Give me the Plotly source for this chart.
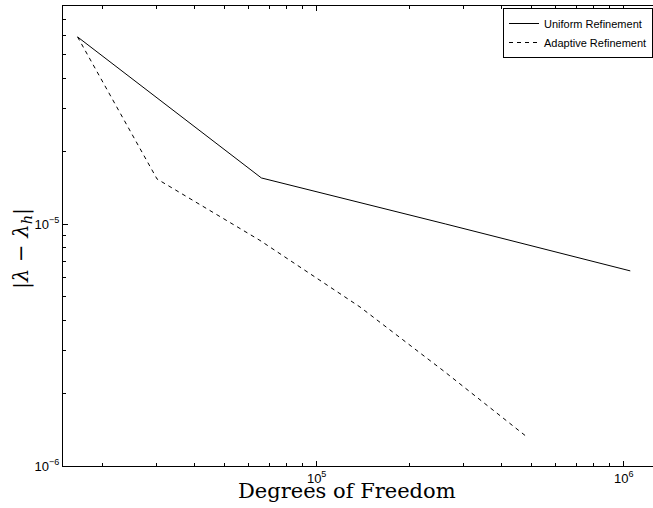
import numpy as np
import plotly.graph_objects as go

# Data
uniform_dof = [16641, 66049, 263169, 1050625]
uniform_err = [5.93e-5, 1.55e-5, 1.0e-5, 6.4e-6]

adaptive_dof = [16641, 30200, 65400, 138400, 261800, 484200]
adaptive_err = [5.93e-5, 1.535e-5, 8.55e-6, 4.54e-6, 2.445e-6, 1.318e-6]

series_names = ["Uniform Refinement", "Adaptive Refinement"]

x_major = [1e5, 1e6]
x_major_text = ["10<sup>5</sup>", "10<sup>6</sup>"]
y_major = [1e-6, 1e-5]
y_major_text = ["10<sup>\u22126</sup>", "10<sup>\u22125</sup>"]

x_minor = [m * 10**e for e in (4, 5) for m in range(2, 10)]
y_minor = [m * 10**e for e in (-6, -5) for m in range(2, 10)]

X_RANGE = [4.1738, 6.0954]
Y_RANGE = [-6, -4.0992]

W, H = 653, 508
L, R, T, B = 63, 0, 6, 42
plot_w = W - L - R
plot_h = H - T - B

fig = go.Figure()
fig.add_trace(go.Scatter(x=uniform_dof, y=uniform_err, mode="lines",
                         name=series_names[0],
                         line=dict(color="black", width=1)))
fig.add_trace(go.Scatter(x=adaptive_dof, y=adaptive_err, mode="lines",
                         name=series_names[1],
                         line=dict(color="black", width=1, dash="4px,4px")))

tickfont = dict(family="Liberation Sans, Arial, sans-serif", size=13, color="black")

fig.update_layout(
    xaxis=dict(type="log", range=X_RANGE,
               showgrid=False, zeroline=False,
               showline=True, linecolor="black", linewidth=1, mirror="ticks",
               ticks="inside", ticklen=5, tickcolor="black", tickwidth=1,
               tickmode="array", tickvals=x_major, ticktext=x_major_text,
               tickfont=tickfont),
    yaxis=dict(type="log", range=Y_RANGE,
               showgrid=False, zeroline=False,
               showline=True, linecolor="black", linewidth=1, mirror=False,
               ticks="inside", ticklen=5, tickcolor="black", tickwidth=1,
               tickmode="array", tickvals=y_major, ticktext=y_major_text,
               tickfont=tickfont),
    # overlay axes carrying the short minor ticks
    xaxis2=dict(type="log", range=X_RANGE, overlaying="x", anchor="y",
                side="bottom",
                showgrid=False, zeroline=False, showline=False, mirror="ticks",
                ticks="inside", ticklen=3, tickcolor="black", tickwidth=1,
                tickmode="array", tickvals=x_minor, showticklabels=False),
    yaxis2=dict(type="log", range=Y_RANGE, overlaying="y", anchor="x",
                side="left",
                showgrid=False, zeroline=False, showline=False, mirror=False,
                ticks="inside", ticklen=3, tickcolor="black", tickwidth=1,
                tickmode="array", tickvals=y_minor, showticklabels=False),
)

# invisible helper trace so the overlay axes get drawn
fig.add_trace(go.Scatter(x=[uniform_dof[0]], y=[uniform_err[0]], xaxis="x2", yaxis="y2",
                         mode="markers", marker=dict(opacity=0),
                         showlegend=False, hoverinfo="skip"))

serif = "DejaVu Serif, Liberation Serif, serif"
fig.add_annotation(text="Degrees of Freedom", xref="paper", yref="paper",
                   x=(347 - L) / plot_w, y=(T + plot_h - 491) / plot_h,
                   xanchor="center", yanchor="middle", showarrow=False,
                   font=dict(family=serif, size=21, color="black"))
fig.add_annotation(text="|<i>\u03bb</i> \u2212 <i>\u03bb</i><sub><i>h</i></sub>|",
                   xref="paper", yref="paper",
                   x=(22 - L) / plot_w, y=(T + plot_h - 249) / plot_h,
                   xanchor="center", yanchor="middle", textangle=-90,
                   showarrow=False,
                   font=dict(family=serif, size=21, color="black"))

fig.update_layout(
    width=W, height=H,
    margin=dict(l=L, r=R, t=T, b=B, pad=0),
    paper_bgcolor="white", plot_bgcolor="white",
    showlegend=True,
    legend=dict(x=1, y=(T + plot_h - 8) / plot_h, xanchor="right", yanchor="top",
                bgcolor="white", bordercolor="black", borderwidth=1,
                font=dict(family="Liberation Sans, Arial, sans-serif", size=11,
                          color="black"),
                itemwidth=30, tracegroupgap=0),
)

fig.write_html("out.html", config={"displayModeBar": False},
               post_script="document.body.style.margin='0';document.body.style.overflow='hidden';")
